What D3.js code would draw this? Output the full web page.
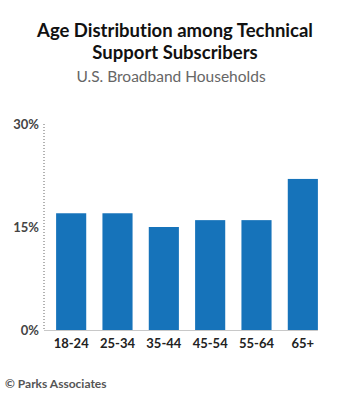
<!DOCTYPE html>
<html>
<head>
<meta charset="utf-8">
<script src="https://cdn.jsdelivr.net/npm/d3@7"></script>
<style>
  body { margin: 0; background: #fff; }
  svg { display: block; }
  text { font-variant-ligatures: none; font-feature-settings: "liga" 0; }
</style>
</head>
<body>
<div id="chart"></div>
<script>
// age groups and share of subscribers (%)
var ageGroups = ["18-24", "25-34", "35-44", "45-54", "55-64", "65+"];
var shares = [17, 17, 15, 16, 16, 22];
var yTicks = [0, 15, 30];

var width = 350, height = 400;

var svg = d3.select("#chart")
    .append("svg")
    .attr("width", width)
    .attr("height", height);

svg.append("rect")
    .attr("width", "100%")
    .attr("height", "100%")
    .attr("fill", "white");

// titles
svg.append("text")
    .attr("x", 175).attr("y", 37)
    .attr("text-anchor", "middle")
    .style("font-family", "Lato, 'Open Sans', sans-serif")
    .style("font-weight", "bold")
    .style("font-size", "18.5px")
    .style("fill", "#111")
    .text("Age Distribution among Technical");

svg.append("text")
    .attr("x", 175).attr("y", 59)
    .attr("text-anchor", "middle")
    .style("font-family", "Lato, 'Open Sans', sans-serif")
    .style("font-weight", "bold")
    .style("font-size", "18.5px")
    .style("fill", "#111")
    .text("Support Subscribers");

svg.append("text")
    .attr("x", 171).attr("y", 82)
    .attr("text-anchor", "middle")
    .style("font-family", "Lato, 'Open Sans', sans-serif")
    .style("font-size", "15.5px")
    .style("fill", "#666")
    .text("U.S. Broadband Households");

// scales
var x = d3.scaleBand()
    .domain(ageGroups)
    .range([48, 326])
    .paddingInner(0.35)
    .paddingOuter(0.175);

var y = d3.scaleLinear()
    .domain([0, 30])
    .range([330, 124]);

// dotted y axis line
svg.append("line")
    .attr("x1", 44).attr("x2", 44)
    .attr("y1", y(30)).attr("y2", y(0))
    .attr("stroke", "#666")
    .attr("stroke-width", 1)
    .attr("stroke-dasharray", "1,2");

// y tick labels
var yAxis = svg.append("g")
    .attr("transform", "translate(40,0)")
    .call(d3.axisLeft(y).tickValues(yTicks).tickSize(0).tickFormat(function(d) { return d + "%"; }));
yAxis.select(".domain").remove();
yAxis.selectAll("text")
    .attr("x", -1)
    .style("font-family", "Lato, 'Open Sans', sans-serif")
    .style("font-weight", "bold")
    .style("font-size", "13px")
    .style("fill", "#444");

// bars
svg.selectAll(".bar")
    .data(ageGroups)
    .enter()
    .append("rect")
    .attr("class", "bar")
    .attr("x", function(d) { return x(d); })
    .attr("width", x.bandwidth())
    .attr("y", function(d, i) { return y(shares[i]); })
    .attr("height", function(d, i) { return y(0) - y(shares[i]); })
    .attr("fill", "#1673ba");

// baseline
svg.append("line")
    .attr("x1", 44).attr("x2", x("65+") + x.bandwidth())
    .attr("y1", y(0) + 0.5).attr("y2", y(0) + 0.5)
    .attr("stroke", "#c8c8c8")
    .attr("stroke-width", 1);

// x labels
var xAxis = svg.append("g")
    .attr("transform", "translate(0," + y(0) + ")")
    .call(d3.axisBottom(x).tickSize(0));
xAxis.select(".domain").remove();
xAxis.selectAll("text")
    .attr("dy", "1.15em")
    .style("font-family", "Lato, 'Open Sans', sans-serif")
    .style("font-weight", "bold")
    .style("font-size", "13px")
    .style("fill", "#222");

// source
svg.append("text")
    .attr("x", 5).attr("y", 388)
    .style("font-family", "Lato, 'Open Sans', sans-serif")
    .style("font-weight", "bold")
    .style("font-size", "12px")
    .style("fill", "#555")
    .text("© Parks Associates");
</script>
</body>
</html>
